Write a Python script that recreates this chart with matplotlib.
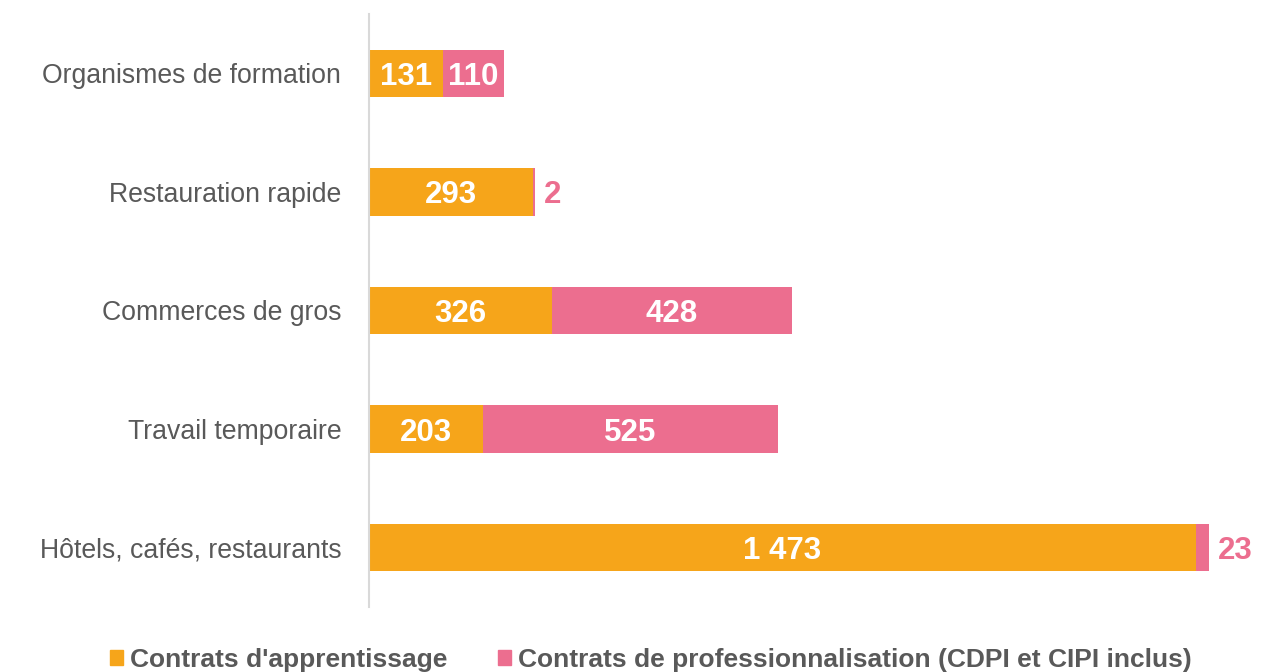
import matplotlib.pyplot as plt
from matplotlib.patches import Patch

plt.rcParams['font.family'] = ['Liberation Sans', 'DejaVu Sans']

categories = ['Organismes de formation', 'Restauration rapide', 'Commerces de gros',
              'Travail temporaire', 'Hôtels, cafés, restaurants']
apprentissage = [131, 293, 326, 203, 1473]
professionnalisation = [110, 2, 428, 525, 23]
series_names = ["Contrats d'apprentissage",
                'Contrats de professionnalisation (CDPI et CIPI inclus)']

orange = '#F6A51A'
pink = '#EC6E8F'

def fmt(v):
    return f'{v:,}'.replace(',', ' ')

fig = plt.figure(figsize=(12.61, 6.72), dpi=100)
ax = fig.add_axes([369 / 1261, 1 - 607 / 672, 870 / 1261, 593 / 672])

y = list(range(len(categories)))
ax.barh(y, apprentissage, height=0.4, color=orange)
ax.barh(y, professionnalisation, left=apprentissage, height=0.4, color=pink)

ax.set_ylim(4.5, -0.5)
ax.set_xlim(0, 1550)
ax.set_yticks(y)
ax.set_yticklabels(categories, fontsize=19.2, color='#595959')
ax.tick_params(axis='y', length=0, pad=20)
ax.set_xticks([])
for s in ['top', 'right', 'bottom']:
    ax.spines[s].set_visible(False)
ax.spines['left'].set_color('#D9D9D9')
ax.spines['left'].set_linewidth(1.5)

dy = 0.03
for i, (a, p) in enumerate(zip(apprentissage, professionnalisation)):
    ax.text(a / 2, i + dy, fmt(a), ha='center', va='center', color='white',
            fontsize=22.5, fontweight='bold')
    if p < 50:
        ax.text(a + p + 16, i + dy, fmt(p), ha='left', va='center', color=pink,
                fontsize=22.5, fontweight='bold')
    else:
        ax.text(a + p / 2, i + dy, fmt(p), ha='center', va='center', color='white',
                fontsize=22.5, fontweight='bold')

handles = [Patch(color=orange), Patch(color=pink)]
leg = fig.legend(handles, series_names, loc='center', bbox_to_anchor=(651 / 1261, 1 - 660 / 672),
                 ncol=2, frameon=False, handlelength=0.5, handleheight=0.5,
                 handletextpad=0.27, columnspacing=1.9,
                 prop={'size': 19, 'weight': 'bold'})
for t in leg.get_texts():
    t.set_color('#595959')

fig.savefig('out.png', dpi=100)
